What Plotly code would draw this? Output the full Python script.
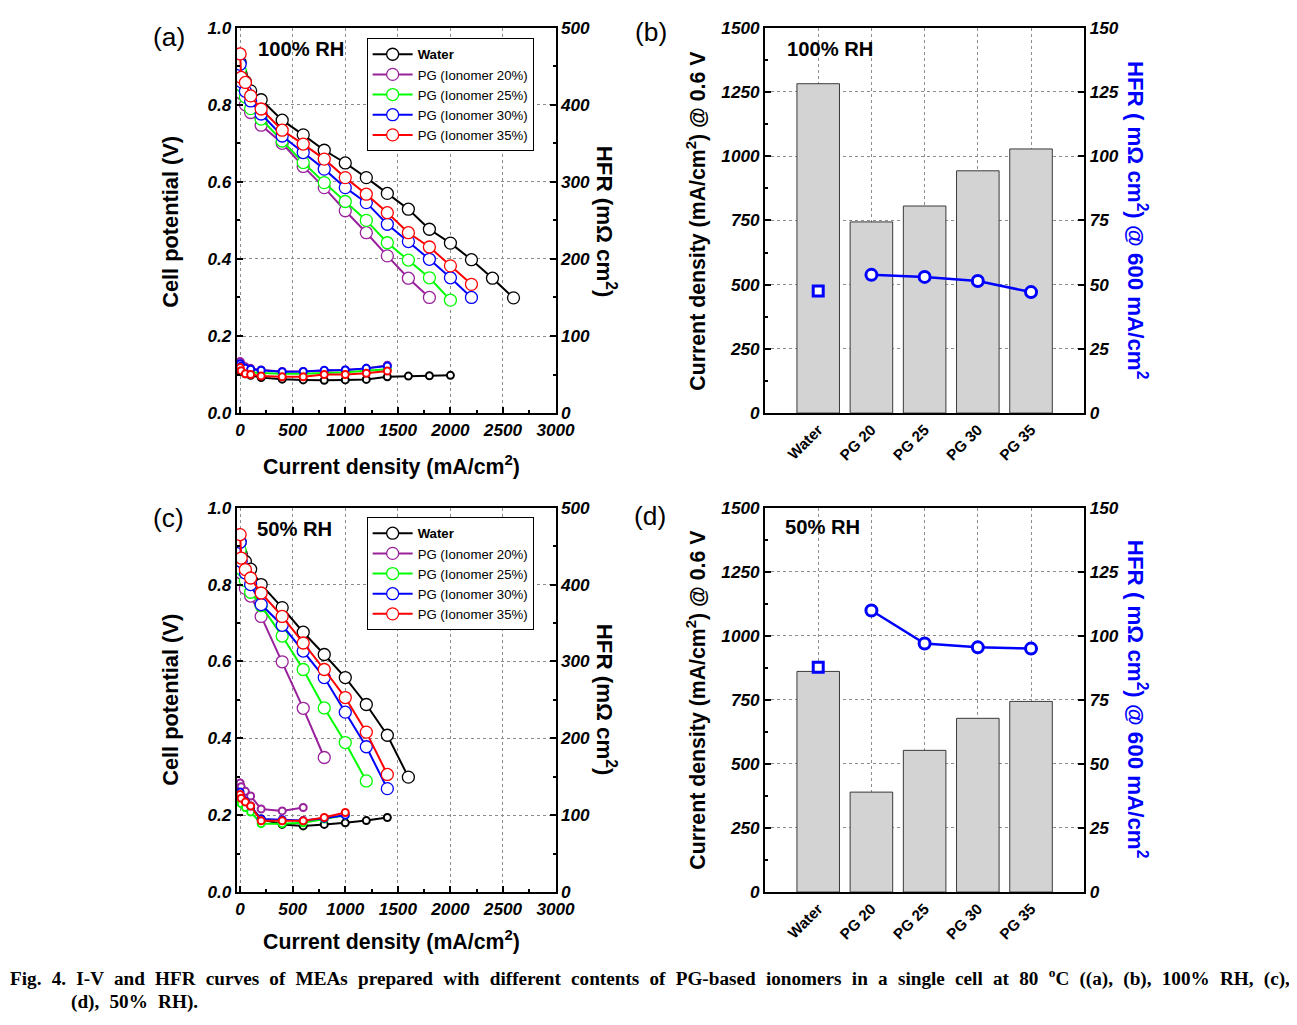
import plotly.graph_objects as go

# The page is photographed slightly scaled (about 1313x1041 CSS px -> 1297x1025),
# with the figure placed at the default body margin (8, 16). Positions below are
# given in reference-picture pixels and converted.
W, H = 1297, 1025
SX, SY = 1297 / 1313, 1025 / 1041
OX, OY = 8, 16
FS = 1 / SX   # font compensation

# ---------------- data ----------------
series_names = ["Water", "PG (Ionomer 20%)", "PG (Ionomer 25%)", "PG (Ionomer 30%)", "PG (Ionomer 35%)"]
series_colors = ["#000000", "#99219c", "#00ff00", "#0000ff", "#ff0000"]

cur_iv = [0, 10, 50, 100, 200, 400, 600, 800, 1000, 1200, 1400, 1600, 1800, 2000, 2200, 2400, 2600]

# (a) 100% RH polarization curves (V)
iv_a_water = [0.91, 0.88, 0.86, 0.836, 0.813, 0.760, 0.722, 0.682, 0.649, 0.611, 0.570, 0.529, 0.477, 0.441, 0.398, 0.350, 0.299]
iv_a_pg20 = [0.87, 0.83, 0.80, 0.78, 0.747, 0.700, 0.640, 0.585, 0.525, 0.468, 0.408, 0.350, 0.300]
iv_a_pg25 = [0.89, 0.85, 0.82, 0.79, 0.763, 0.706, 0.650, 0.598, 0.549, 0.500, 0.442, 0.397, 0.351, 0.293]
iv_a_pg30 = [0.905, 0.86, 0.835, 0.81, 0.776, 0.719, 0.676, 0.633, 0.585, 0.546, 0.490, 0.445, 0.399, 0.351, 0.300]
iv_a_pg35 = [0.932, 0.871, 0.858, 0.823, 0.789, 0.734, 0.698, 0.659, 0.611, 0.568, 0.520, 0.468, 0.431, 0.382, 0.334]

# (a) 100% RH HFR (mOhm cm2)
hfr_a_water = [57, 54, 51, 49, 46, 44, 43, 42.5, 43, 43.7, 47, 48, 48.5, 49]
hfr_a_pg20 = [67, 64, 60, 58, 56, 54, 54, 55, 56, 58, 62]
hfr_a_pg25 = [62, 58, 55, 53, 52, 51, 51, 52, 53, 55, 57]
hfr_a_pg30 = [64, 61, 58, 57, 55.5, 53.7, 54, 55.5, 56, 58, 61]
hfr_a_pg35 = [59, 55, 51, 50, 48, 47, 47, 50, 50, 51.6, 54.5]

# (c) 50% RH polarization curves (V)
iv_c_water = [0.91, 0.88, 0.86, 0.84, 0.80, 0.740, 0.676, 0.618, 0.558, 0.488, 0.408, 0.299]
iv_c_pg20 = [0.88, 0.83, 0.79, 0.77, 0.717, 0.599, 0.478, 0.350]
iv_c_pg25 = [0.89, 0.84, 0.81, 0.78, 0.745, 0.666, 0.579, 0.479, 0.389, 0.289]
iv_c_pg30 = [0.91, 0.86, 0.83, 0.80, 0.748, 0.694, 0.627, 0.558, 0.468, 0.378, 0.269]
iv_c_pg35 = [0.93, 0.869, 0.839, 0.817, 0.778, 0.717, 0.648, 0.579, 0.506, 0.416, 0.306]

# (c) 50% RH HFR (mOhm cm2)
hfr_c_water = [125, 122, 118, 110, 95, 88, 86, 88, 90, 93, 97]
hfr_c_pg20 = [142, 137, 131, 125, 108, 105.6, 110]
hfr_c_pg25 = [120, 115, 110, 104, 89, 89, 90, 95, 100]
hfr_c_pg30 = [130, 124, 118, 112, 95, 94, 93, 96, 100]
hfr_c_pg35 = [127, 122, 117, 112, 92.6, 92.6, 92.6, 97, 103.5]

# (b)/(d) bar summaries
categories = ["Water", "PG 20", "PG 25", "PG 30", "PG 35"]
cd_b = [1282, 744, 806, 943, 1028]       # mA/cm2 @ 0.6 V, 100% RH
hfr_b = [47.5, 53.8, 53.0, 51.4, 47.1]   # mOhm cm2 @ 600 mA/cm2, 100% RH
cd_d = [861, 390, 553, 678, 744]         # 50% RH
hfr_d = [87.7, 109.9, 97.0, 95.5, 95.0]

x_ticks_iv = [0, 500, 1000, 1500, 2000, 2500, 3000]

# ---------------- helpers (reference pixels -> paper) ----------------
def px(x):
    return (x / SX - OX) / W

def py(y):
    return 1 - (y / SY - OY) / H

def xd(a, b):
    return [px(a), px(b)]

def yd(top, bottom):
    return [py(bottom), py(top)]

def fs(s):
    return round(s * FS, 1)

TICKFONT = dict(family="Liberation Sans, Arial", size=fs(17), color="black", weight="bold", style="italic")
CATFONT = dict(family="Liberation Sans, Arial", size=fs(15), color="black", weight="bold")
GRID = dict(showgrid=True, gridcolor="#8c8c8c", griddash="dot", gridwidth=1)
LINE = dict(showline=True, linecolor="black", linewidth=2, zeroline=False)

fig = go.Figure()

# ---------------- IV + HFR panels ----------------
iv_sets = {
    "a": ([iv_a_water, iv_a_pg20, iv_a_pg25, iv_a_pg30, iv_a_pg35],
          [hfr_a_water, hfr_a_pg20, hfr_a_pg25, hfr_a_pg30, hfr_a_pg35], "x", "y", "y2", "legend"),
    "c": ([iv_c_water, iv_c_pg20, iv_c_pg25, iv_c_pg30, iv_c_pg35],
          [hfr_c_water, hfr_c_pg20, hfr_c_pg25, hfr_c_pg30, hfr_c_pg35], "x3", "y5", "y6", "legend2"),
}
for key, (ivs, hfrs, xa, ya, ya2, leg) in iv_sets.items():
    for i, (name, col) in enumerate(zip(series_names, series_colors)):
        v = ivs[i]
        label = "<b>Water</b>" if i == 0 else name
        fig.add_trace(go.Scatter(
            x=cur_iv[:len(v)], y=v, mode="lines+markers", name=label,
            line=dict(color=col, width=2),
            marker=dict(symbol="circle", size=12, color="white", line=dict(color=col, width=1.3)),
            xaxis=xa, yaxis=ya, legend=leg, legendgroup=key + str(i), showlegend=True))
    for i, (name, col) in enumerate(zip(series_names, series_colors)):
        h = hfrs[i]
        fig.add_trace(go.Scatter(
            x=cur_iv[:len(h)], y=h, mode="lines+markers", name=name,
            line=dict(color=col, width=2),
            marker=dict(symbol="circle", size=7, color="white", line=dict(color=col, width=2)),
            xaxis=xa, yaxis=ya2, legend=leg, legendgroup=key + str(i), showlegend=False))

# ---------------- bar panels ----------------
for cd, hfr, xa, ya, ya2 in [(cd_b, hfr_b, "x2", "y3", "y4"), (cd_d, hfr_d, "x4", "y7", "y8")]:
    fig.add_trace(go.Bar(x=categories, y=cd, width=0.8, marker=dict(color="#d3d3d3", line=dict(color="#3a3a3a", width=1)),
                         xaxis=xa, yaxis=ya, showlegend=False))
    fig.add_trace(go.Scatter(x=categories[:1], y=hfr[:1], mode="markers",
                             marker=dict(symbol="square", size=10, color="white", line=dict(color="#0000ff", width=3)),
                             xaxis=xa, yaxis=ya2, showlegend=False))
    fig.add_trace(go.Scatter(x=categories[1:], y=hfr[1:], mode="lines+markers",
                             line=dict(color="#0000ff", width=2.5),
                             marker=dict(symbol="circle", size=11, color="white", line=dict(color="#0000ff", width=3)),
                             xaxis=xa, yaxis=ya2, showlegend=False))

# ---------------- axes ----------------
XA = xd(236.7, 556.7)
XB = xd(767, 1087.5)
YTOP = yd(25.5, 412.5)
YBOT = yd(507.5, 893.5)

def iv_xaxis(anchor, dom):
    return dict(domain=dom, anchor=anchor, range=[-31, 3000], tickvals=x_ticks_iv, ticks="inside", ticklen=6,
                tickwidth=1.5, tickcolor="black", mirror=True, tickfont=TICKFONT,
                minor=dict(ticks="inside", dtick=250, tick0=0, ticklen=3, tickcolor="black", showgrid=False), **GRID, **LINE)

def iv_yaxis(anchor, dom):
    return dict(domain=dom, anchor=anchor, range=[0, 1.0], dtick=0.2, tick0=0, tickformat=".1f", ticks="inside", ticklen=6,
                tickwidth=1.5, tickcolor="black", tickfont=TICKFONT,
                minor=dict(ticks="inside", dtick=0.1, tick0=0, ticklen=3, tickcolor="black", showgrid=False), **GRID, **LINE)

def iv_y2axis(anchor, over):
    return dict(anchor=anchor, overlaying=over, side="right", range=[0, 500], dtick=100, tick0=0, ticks="inside", ticklen=6,
                tickwidth=1.5, tickcolor="black", tickfont=TICKFONT, showgrid=False,
                minor=dict(ticks="inside", dtick=50, tick0=0, ticklen=3, tickcolor="black"), **LINE)

def bar_xaxis(anchor, dom):
    return dict(domain=dom, anchor=anchor, type="category", categoryorder="array", categoryarray=categories,
                range=[-1, 5], tickangle=-45, ticks="", mirror=True, tickfont=CATFONT, **GRID, **LINE)

def bar_yaxis(anchor, dom):
    return dict(domain=dom, anchor=anchor, range=[0, 1500], dtick=250, tick0=0, ticks="inside", ticklen=6,
                tickwidth=1.5, tickcolor="black", tickfont=TICKFONT,
                minor=dict(ticks="inside", dtick=125, tick0=0, ticklen=3, tickcolor="black", showgrid=False), **GRID, **LINE)

def bar_y2axis(anchor, over):
    return dict(anchor=anchor, overlaying=over, side="right", range=[0, 150], dtick=25, tick0=0, ticks="inside", ticklen=6,
                tickwidth=1.5, tickcolor="black", tickfont=TICKFONT, showgrid=False, **LINE)

fig.update_layout(
    xaxis=iv_xaxis("y", XA), yaxis=iv_yaxis("x", YTOP), yaxis2=iv_y2axis("x", "y"),
    xaxis2=bar_xaxis("y3", XB), yaxis3=bar_yaxis("x2", YTOP), yaxis4=bar_y2axis("x2", "y3"),
    xaxis3=iv_xaxis("y5", XA), yaxis5=iv_yaxis("x3", YBOT), yaxis6=iv_y2axis("x3", "y5"),
    xaxis4=bar_xaxis("y7", XB), yaxis7=bar_yaxis("x4", YBOT), yaxis8=bar_y2axis("x4", "y7"),
)

LEG = dict(bgcolor="white", bordercolor="black", borderwidth=1, xanchor="left", yanchor="top",
           font=dict(family="Liberation Sans, Arial", size=fs(13), color="black"), itemwidth=40, tracegroupgap=0,
           itemclick=False, itemdoubleclick=False)
fig.update_layout(legend=dict(x=px(367), y=py(36), **LEG), legend2=dict(x=px(367), y=py(517), **LEG))

# ---------------- annotations ----------------
ann = []
def A(text, x, y, size=20, angle=0, color="black", bold=True, family="Liberation Sans, Arial", xanchor="center", yanchor="middle"):
    ann.append(dict(text=text, x=px(x), y=py(y), xref="paper", yref="paper", showarrow=False, textangle=angle,
                    xanchor=xanchor, yanchor=yanchor,
                    font=dict(family=family, size=fs(size), color=color, weight="bold" if bold else "normal")))

for (lbl, x, y) in [("(a)", 169, 35), ("(b)", 653, 30), ("(c)", 168, 518), ("(d)", 652, 516)]:
    A(lbl, x, y, size=26, bold=False)

A("100% RH", 301, 47, size=20); A("100% RH", 832, 47, size=20)
A("50% RH", 295, 529, size=20); A("50% RH", 825, 527, size=20)

for yc, yx in [(220, 465), (700, 942)]:
    A("Cell potential (V)", 170, yc, size=21.5, angle=-90)
    A("HFR (m\u03a9 cm<sup>2</sup>)", 607, yc, size=22, angle=90)
    A("Current density (mA/cm<sup>2</sup>)", 392, yx, size=21)

for yc in [219, 700]:
    A("Current density (mA/cm<sup>2</sup>) @ 0.6 V", 698, yc, size=21, angle=-90)
    A("HFR ( m\u03a9 cm<sup>2</sup>) @ 600 mA/cm<sup>2</sup>", 1140, yc, size=22, angle=90, color="#0000ff")

cap1 = ("Fig. 4. I-V and HFR curves of MEAs prepared with different contents of PG-based ionomers "
        "in a single cell at 80 <sup>o</sup>C ((a), (b), 100% RH, (c),")
cap1 = cap1.replace(" ", " \u2009\u200a")
A(cap1, 7, 979, size=19, family="Liberation Serif, Times New Roman", xanchor="left")
A("(d), 50% RH).".replace(" ", " \u2009\u200a"), 68, 1004, size=19, family="Liberation Serif, Times New Roman", xanchor="left")

fig.update_layout(annotations=ann, width=W, height=H, margin=dict(l=0, r=0, t=0, b=0), autosize=False,
                  plot_bgcolor="white", paper_bgcolor="white", bargap=0.2)

fig.write_html("out.html", config={"displayModeBar": False})
